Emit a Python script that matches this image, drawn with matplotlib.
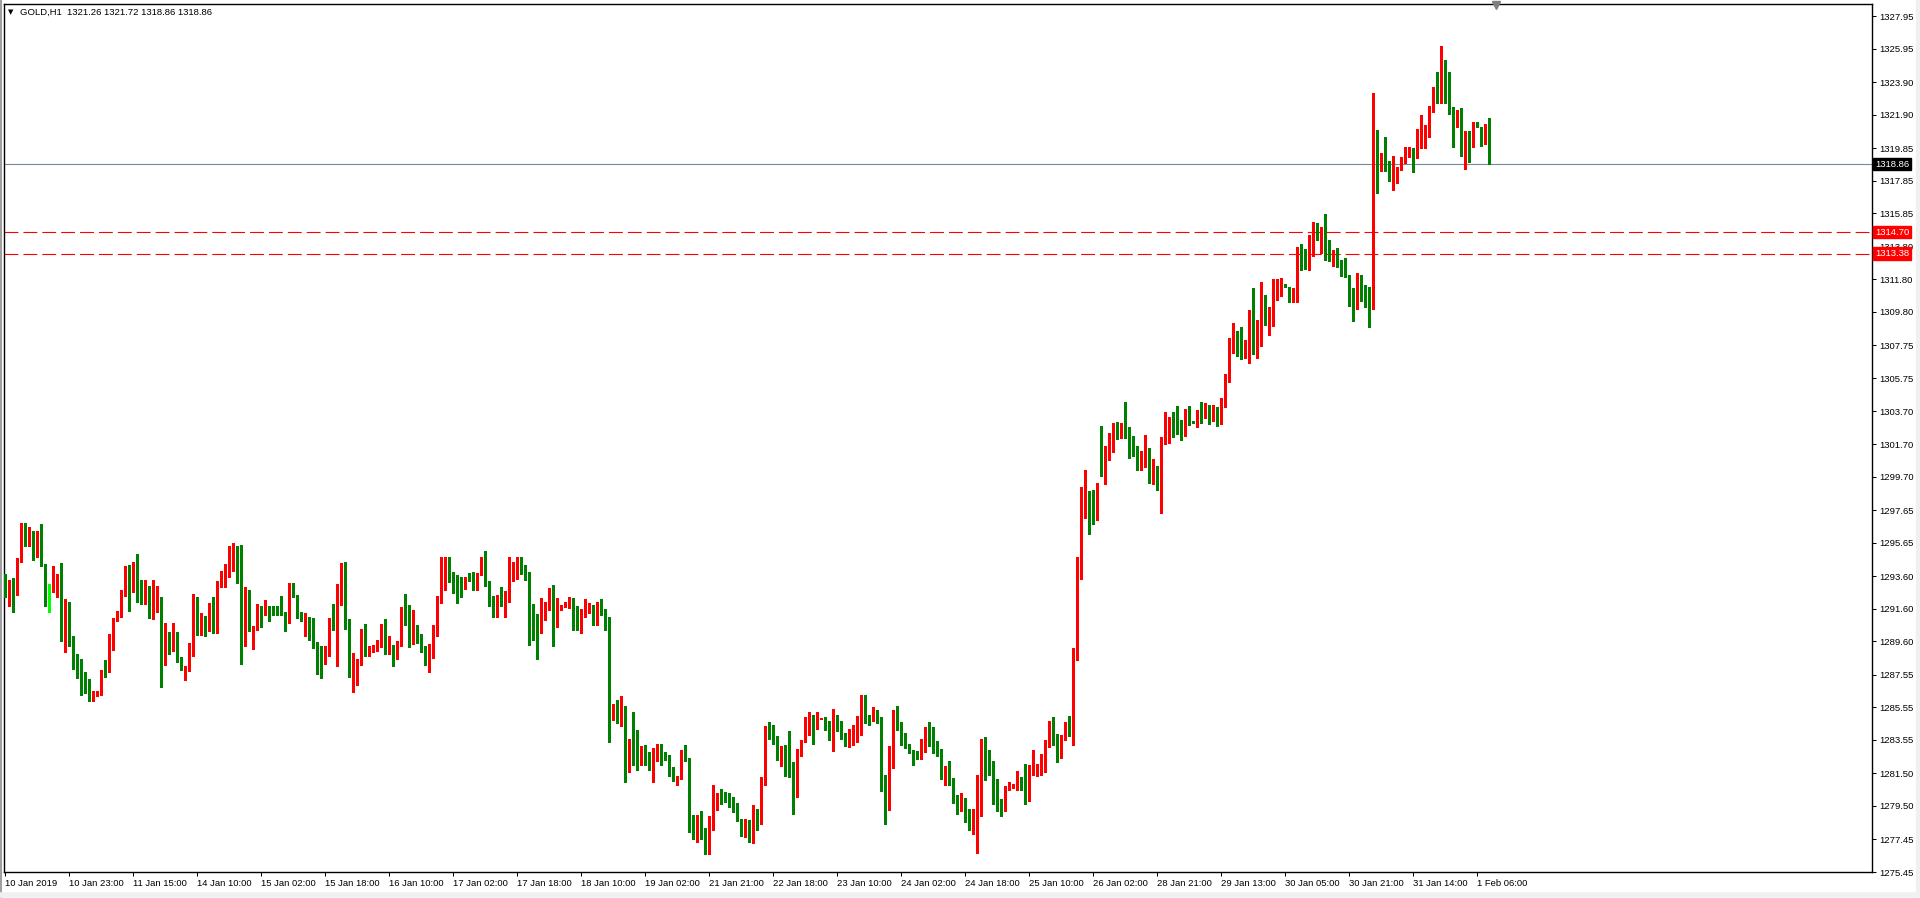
import matplotlib
matplotlib.use("Agg")
import matplotlib.pyplot as plt
from matplotlib.lines import Line2D

# ------------------------------------------------------
# GOLD H1 bars, 10 Jan 2019 -> 1 Feb 2019
# ------------------------------------------------------
opens = [
    1293.27, 1292.72, 1292.93, 1292.41, 1294.50, 1296.75, 1295.52, 1296.07, 1294.97, 1295.28,
    1294.36, 1292.80, 1292.76, 1292.82, 1293.74, 1289.64, 1291.72, 1289.94, 1288.84, 1287.75,
    1287.61, 1287.31, 1286.08, 1286.22, 1286.28, 1287.92, 1287.69, 1289.66, 1290.82, 1291.09,
    1292.60, 1293.82, 1292.86, 1293.48, 1292.72, 1292.05, 1292.97, 1291.33, 1291.84, 1292.21,
    1288.37, 1290.06, 1289.14, 1290.06, 1288.41, 1287.31, 1287.86, 1288.84, 1292.15, 1290.06,
    1290.78, 1290.27, 1291.64, 1291.17, 1292.93, 1293.52, 1293.54, 1294.91, 1295.38, 1295.09,
    1289.59, 1291.94, 1290.27, 1290.41, 1291.54, 1291.43, 1291.64, 1291.39, 1291.78, 1291.39,
    1291.33, 1291.06, 1292.86, 1292.35, 1291.09, 1291.00, 1291.09, 1290.47, 1289.49, 1288.71,
    1288.53, 1288.84, 1290.98, 1290.61, 1292.82, 1294.25, 1290.98, 1287.65, 1287.71, 1288.47,
    1290.20, 1288.92, 1289.16, 1289.22, 1289.33, 1290.51, 1288.98, 1289.33, 1288.53, 1289.39,
    1291.47, 1290.80, 1289.49, 1290.61, 1289.63, 1289.18, 1288.47, 1288.61, 1289.94, 1292.29,
    1292.72, 1294.56, 1293.57, 1293.21, 1293.00, 1292.90, 1293.82, 1293.57, 1292.76, 1293.74,
    1294.60, 1293.21, 1292.29, 1291.22, 1292.45, 1292.39, 1292.66, 1293.78, 1294.04, 1294.08,
    1293.88, 1293.68, 1291.33, 1290.55, 1290.14, 1291.33, 1291.74, 1292.08, 1290.55, 1291.53,
    1291.76, 1291.78, 1292.14, 1290.92, 1290.61, 1291.12, 1291.49, 1291.78, 1290.92, 1291.84,
    1291.45, 1290.90, 1284.89, 1285.71, 1284.38, 1285.65, 1282.99, 1283.19, 1283.15, 1282.23,
    1282.40, 1282.23, 1280.95, 1282.34, 1283.25, 1282.70, 1282.58, 1281.60, 1281.11, 1281.21,
    1282.78, 1282.27, 1278.90, 1278.21, 1278.76, 1278.15, 1277.47, 1278.76, 1279.58, 1280.23,
    1280.23, 1279.68, 1279.51, 1279.21, 1278.70, 1277.74, 1278.66, 1277.33, 1279.02, 1278.41,
    1281.01, 1284.22, 1283.97, 1283.66, 1282.38, 1283.01, 1282.64, 1281.41, 1280.03, 1282.91,
    1283.42, 1284.24, 1285.09, 1284.22, 1284.83, 1284.85, 1284.42, 1284.28, 1284.83, 1284.28,
    1283.77, 1283.15, 1283.83, 1283.87, 1284.24, 1286.16, 1284.95, 1284.73, 1285.26, 1284.93,
    1280.64, 1279.58, 1281.87, 1284.85, 1284.58, 1283.40, 1283.32, 1282.89, 1282.85, 1282.44,
    1283.52, 1284.28, 1284.24, 1283.19, 1282.70, 1281.38, 1281.52, 1281.11, 1279.90, 1279.40,
    1279.80, 1278.90, 1278.40, 1279.00, 1279.20, 1283.26, 1282.03, 1281.93, 1279.90, 1279.50,
    1279.30, 1280.68, 1280.66, 1280.80, 1281.25, 1280.66, 1279.90, 1281.52, 1281.52, 1281.72,
    1281.97, 1283.40, 1284.42, 1283.56, 1283.09, 1283.56, 1284.34, 1283.93, 1288.43, 1293.43,
    1297.26, 1298.83, 1297.46, 1297.01, 1302.81, 1299.87, 1301.04, 1301.38, 1302.87, 1302.47,
    1302.98, 1302.26, 1301.65, 1301.59, 1300.18, 1300.36, 1301.04, 1299.40, 1299.91, 1299.34,
    1301.85, 1302.32, 1303.18, 1303.12, 1302.51, 1302.32, 1303.79, 1303.08, 1303.02, 1303.79,
    1303.50, 1304.00, 1303.30, 1303.80, 1303.00, 1304.30, 1305.70, 1307.60, 1308.25, 1308.10,
    1307.20, 1307.00, 1308.58, 1307.40, 1307.90, 1310.78, 1309.07, 1309.68, 1310.84, 1311.15,
    1311.46, 1311.31, 1310.44, 1311.11, 1313.60, 1313.56, 1312.99, 1313.40, 1314.99, 1314.22,
    1314.63, 1313.80, 1313.00, 1313.40, 1312.70, 1312.50, 1311.93, 1311.25, 1310.50, 1312.01,
    1311.31, 1310.95, 1310.13, 1319.78, 1318.75, 1319.84, 1319.08, 1317.90, 1318.04, 1318.51,
    1319.08, 1319.43, 1319.80, 1319.22, 1320.33, 1320.45, 1320.55, 1322.29, 1323.25, 1322.94,
    1325.21, 1323.05, 1322.13, 1321.21, 1321.88, 1319.37, 1320.90, 1319.94, 1321.25, 1321.17,
    1320.86, 1321.26,
]

highs = [
    1293.74, 1293.33, 1293.48, 1294.70, 1296.85, 1296.85, 1296.60, 1296.34, 1296.34, 1296.80,
    1294.36, 1293.13, 1294.19, 1293.74, 1294.40, 1292.19, 1291.99, 1289.94, 1288.84, 1288.51,
    1287.69, 1287.31, 1286.53, 1286.53, 1287.86, 1288.47, 1290.04, 1291.02, 1291.47, 1292.76,
    1294.19, 1294.29, 1294.44, 1294.97, 1293.38, 1293.38, 1293.01, 1293.38, 1293.01, 1292.31,
    1290.72, 1290.15, 1290.72, 1290.15, 1288.63, 1288.06, 1289.49, 1292.50, 1292.31, 1291.33,
    1291.17, 1291.94, 1292.31, 1293.27, 1293.93, 1294.34, 1295.46, 1295.66, 1295.42, 1295.52,
    1292.93, 1292.72, 1290.51, 1291.90, 1291.74, 1292.15, 1291.74, 1291.78, 1291.78, 1292.39,
    1291.37, 1293.17, 1293.17, 1292.45, 1291.41, 1291.33, 1291.09, 1291.02, 1289.57, 1289.33,
    1289.33, 1291.06, 1291.90, 1293.13, 1294.43, 1294.49, 1290.98, 1288.87, 1288.53, 1290.35,
    1290.67, 1289.29, 1289.39, 1289.69, 1290.67, 1290.98, 1289.94, 1289.39, 1289.63, 1291.70,
    1292.51, 1291.84, 1291.53, 1290.61, 1290.06, 1289.33, 1289.45, 1290.61, 1292.35, 1294.76,
    1294.76, 1294.76, 1293.88, 1293.68, 1293.57, 1293.57, 1293.82, 1293.88, 1293.82, 1294.80,
    1295.15, 1293.27, 1292.39, 1292.45, 1292.92, 1292.70, 1294.76, 1294.45, 1294.76, 1294.76,
    1294.29, 1293.88, 1291.90, 1291.29, 1292.25, 1292.04, 1292.86, 1293.06, 1292.25, 1291.84,
    1292.04, 1292.31, 1292.25, 1291.78, 1291.57, 1292.18, 1291.94, 1291.84, 1292.04, 1292.20,
    1291.60, 1291.10, 1285.77, 1285.97, 1286.26, 1285.65, 1283.60, 1285.24, 1284.17, 1283.15,
    1283.25, 1282.78, 1283.05, 1283.32, 1283.32, 1282.78, 1282.64, 1281.89, 1281.31, 1282.95,
    1283.25, 1282.44, 1278.96, 1278.96, 1279.21, 1278.15, 1278.86, 1280.80, 1280.29, 1280.54,
    1280.33, 1280.29, 1280.05, 1279.68, 1278.70, 1278.70, 1278.66, 1279.58, 1279.31, 1281.27,
    1284.38, 1284.62, 1284.48, 1283.77, 1283.15, 1283.21, 1284.11, 1282.17, 1282.99, 1283.56,
    1284.93, 1285.24, 1285.09, 1285.26, 1284.89, 1284.95, 1284.73, 1285.46, 1285.09, 1284.69,
    1283.97, 1284.22, 1284.48, 1285.03, 1286.32, 1286.32, 1285.09, 1285.56, 1285.40, 1284.93,
    1281.41, 1283.15, 1285.40, 1285.65, 1284.62, 1283.97, 1283.32, 1282.95, 1282.89, 1283.60,
    1284.32, 1284.62, 1284.32, 1283.46, 1283.01, 1281.93, 1282.23, 1281.20, 1280.20, 1280.30,
    1280.00, 1279.30, 1279.30, 1281.42, 1283.60, 1283.70, 1282.95, 1282.27, 1281.15, 1279.90,
    1280.70, 1280.95, 1280.85, 1281.62, 1281.25, 1282.09, 1282.03, 1282.91, 1282.09, 1282.70,
    1283.56, 1284.73, 1284.93, 1283.93, 1283.87, 1284.62, 1284.99, 1289.22, 1294.80, 1299.09,
    1300.11, 1298.83, 1298.89, 1299.34, 1302.81, 1301.59, 1302.40, 1302.98, 1303.08, 1302.98,
    1304.28, 1302.77, 1302.22, 1301.59, 1301.28, 1302.26, 1301.48, 1300.77, 1300.36, 1302.16,
    1303.69, 1303.38, 1303.65, 1304.04, 1303.18, 1303.85, 1304.04, 1303.10, 1303.79, 1304.30,
    1304.20, 1304.10, 1304.10, 1304.00, 1304.50, 1306.00, 1308.20, 1309.11, 1308.66, 1308.90,
    1308.10, 1309.93, 1311.29, 1309.30, 1311.61, 1310.84, 1310.13, 1311.80, 1311.80, 1311.87,
    1311.50, 1311.36, 1311.25, 1313.77, 1313.97, 1313.64, 1314.52, 1315.34, 1315.28, 1315.00,
    1315.81, 1314.20, 1313.60, 1313.70, 1313.00, 1313.10, 1312.07, 1311.25, 1312.17, 1312.07,
    1311.46, 1311.36, 1323.25, 1320.96, 1319.53, 1320.51, 1319.08, 1319.37, 1318.71, 1319.33,
    1319.90, 1319.90, 1319.84, 1321.00, 1321.88, 1321.27, 1322.43, 1323.62, 1324.50, 1326.11,
    1325.25, 1324.50, 1322.39, 1322.19, 1322.29, 1320.90, 1320.92, 1321.45, 1321.45, 1321.17,
    1321.33, 1321.72,
]

lows = [
    1292.29, 1291.78, 1291.37, 1292.41, 1294.45, 1295.42, 1295.42, 1294.60, 1294.76, 1294.19,
    1291.78, 1291.37, 1292.60, 1292.29, 1289.59, 1288.92, 1289.29, 1287.92, 1287.35, 1286.28,
    1286.43, 1285.92, 1285.96, 1286.22, 1286.28, 1287.39, 1287.69, 1289.08, 1290.82, 1291.09,
    1292.35, 1291.47, 1292.60, 1291.99, 1291.90, 1291.90, 1291.02, 1290.96, 1291.37, 1286.77,
    1288.16, 1288.84, 1288.98, 1288.33, 1287.82, 1287.24, 1287.75, 1288.67, 1290.00, 1290.00,
    1289.94, 1290.21, 1290.11, 1290.11, 1292.93, 1292.91, 1293.54, 1293.93, 1293.17, 1288.20,
    1289.29, 1290.21, 1289.12, 1290.27, 1290.45, 1291.23, 1290.82, 1291.19, 1291.23, 1291.23,
    1290.21, 1290.72, 1292.31, 1291.02, 1290.82, 1289.94, 1289.65, 1289.16, 1287.61, 1287.32,
    1288.18, 1288.71, 1290.27, 1288.06, 1291.84, 1290.37, 1287.44, 1286.52, 1286.89, 1288.16,
    1288.71, 1288.67, 1288.92, 1288.98, 1289.24, 1288.83, 1288.83, 1288.10, 1288.53, 1289.33,
    1290.61, 1289.24, 1289.45, 1289.49, 1288.92, 1288.16, 1287.69, 1288.57, 1289.94, 1291.98,
    1292.72, 1293.21, 1292.59, 1291.98, 1292.29, 1292.80, 1293.27, 1292.72, 1292.72, 1293.68,
    1293.00, 1291.74, 1291.12, 1291.12, 1291.74, 1291.12, 1292.04, 1293.27, 1293.43, 1293.72,
    1293.37, 1289.39, 1289.65, 1288.53, 1290.14, 1290.88, 1291.53, 1289.33, 1290.47, 1291.49,
    1291.70, 1291.63, 1290.31, 1290.27, 1290.14, 1291.08, 1291.33, 1290.61, 1290.61, 1291.20,
    1290.30, 1283.40, 1284.75, 1284.58, 1284.38, 1280.95, 1281.56, 1282.03, 1281.68, 1282.03,
    1282.03, 1281.68, 1280.95, 1282.27, 1282.03, 1282.34, 1281.31, 1281.01, 1280.80, 1281.17,
    1282.23, 1277.88, 1277.47, 1277.27, 1277.47, 1276.55, 1276.55, 1278.00, 1279.23, 1279.64,
    1279.72, 1279.41, 1279.11, 1278.55, 1277.63, 1277.57, 1277.27, 1277.23, 1278.00, 1278.41,
    1280.80, 1283.60, 1283.30, 1282.29, 1281.93, 1281.35, 1281.25, 1279.02, 1280.03, 1282.54,
    1283.42, 1283.87, 1283.32, 1284.22, 1284.81, 1284.13, 1283.56, 1282.85, 1284.11, 1283.62,
    1283.15, 1283.09, 1283.21, 1283.40, 1283.87, 1284.58, 1284.44, 1284.73, 1284.58, 1280.39,
    1278.41, 1279.23, 1281.82, 1284.17, 1283.26, 1283.05, 1282.75, 1282.03, 1282.40, 1282.38,
    1282.79, 1283.19, 1282.75, 1282.54, 1281.15, 1280.80, 1280.80, 1279.70, 1279.00, 1279.20,
    1278.50, 1278.00, 1277.80, 1276.63, 1278.90, 1281.07, 1281.42, 1279.60, 1279.20, 1278.90,
    1279.20, 1280.49, 1280.62, 1280.49, 1280.45, 1279.60, 1279.80, 1281.40, 1281.36, 1281.40,
    1281.56, 1283.09, 1283.26, 1282.17, 1282.44, 1283.56, 1283.81, 1283.26, 1288.43, 1293.43,
    1297.15, 1296.19, 1296.80, 1297.01, 1299.75, 1299.26, 1300.73, 1301.24, 1302.01, 1302.10,
    1302.10, 1300.87, 1300.97, 1300.11, 1300.11, 1300.32, 1299.34, 1299.26, 1298.85, 1297.50,
    1301.71, 1301.75, 1302.16, 1302.30, 1301.95, 1302.20, 1302.87, 1303.00, 1302.77, 1303.00,
    1303.30, 1302.90, 1303.10, 1302.80, 1302.90, 1304.00, 1305.50, 1307.30, 1307.10, 1306.90,
    1307.00, 1306.70, 1307.20, 1307.00, 1307.70, 1309.01, 1308.39, 1308.94, 1310.54, 1310.78,
    1311.36, 1310.44, 1310.40, 1310.44, 1312.38, 1312.44, 1312.38, 1313.25, 1314.22, 1313.40,
    1313.00, 1312.90, 1312.60, 1312.55, 1312.00, 1311.93, 1310.17, 1309.27, 1309.97, 1310.48,
    1310.13, 1308.86, 1309.97, 1317.12, 1318.47, 1318.47, 1317.86, 1317.28, 1317.69, 1318.51,
    1318.96, 1319.29, 1318.41, 1319.22, 1319.84, 1319.84, 1320.51, 1322.09, 1322.60, 1322.60,
    1322.64, 1321.94, 1319.94, 1321.12, 1319.37, 1318.57, 1319.02, 1319.94, 1321.12, 1319.98,
    1320.10, 1318.86,
]

closes = [
    1292.72, 1293.01, 1292.35, 1294.54, 1296.75, 1295.52, 1296.07, 1294.97, 1295.28, 1294.29,
    1292.76, 1292.80, 1292.93, 1293.74, 1289.64, 1291.72, 1289.90, 1288.78, 1287.71, 1287.55,
    1287.24, 1286.02, 1286.26, 1286.32, 1287.80, 1287.69, 1289.70, 1290.86, 1291.17, 1292.66,
    1293.82, 1292.82, 1293.44, 1292.66, 1292.05, 1293.01, 1291.33, 1291.84, 1292.21, 1288.37,
    1290.11, 1289.14, 1290.06, 1288.37, 1287.86, 1287.90, 1288.88, 1292.15, 1290.06, 1290.72,
    1290.27, 1291.60, 1291.17, 1293.01, 1293.54, 1293.62, 1294.97, 1295.38, 1295.05, 1289.59,
    1291.94, 1290.27, 1290.41, 1291.54, 1291.37, 1291.70, 1291.39, 1291.23, 1291.23, 1291.29,
    1291.02, 1292.80, 1292.35, 1291.06, 1291.00, 1291.09, 1290.51, 1289.45, 1288.67, 1288.47,
    1288.87, 1290.98, 1290.61, 1292.82, 1294.25, 1290.92, 1287.61, 1287.79, 1288.53, 1290.20,
    1288.92, 1289.16, 1289.29, 1289.45, 1290.51, 1288.98, 1289.33, 1288.53, 1289.45, 1291.47,
    1290.80, 1289.53, 1290.61, 1289.59, 1289.18, 1288.47, 1288.67, 1289.99, 1292.35, 1292.82,
    1294.56, 1293.57, 1293.21, 1292.96, 1292.90, 1293.37, 1293.27, 1292.72, 1293.82, 1294.60,
    1293.13, 1292.29, 1291.22, 1292.45, 1292.39, 1292.70, 1293.82, 1294.04, 1294.10, 1293.82,
    1293.61, 1291.29, 1290.41, 1290.14, 1291.33, 1291.84, 1292.14, 1290.55, 1291.59, 1291.78,
    1291.80, 1292.14, 1290.88, 1290.61, 1291.16, 1291.59, 1291.78, 1290.92, 1291.84, 1291.45,
    1290.90, 1284.89, 1285.71, 1284.58, 1285.65, 1282.99, 1283.19, 1283.09, 1282.23, 1282.40,
    1282.17, 1281.76, 1282.40, 1283.25, 1282.70, 1282.48, 1281.56, 1281.11, 1281.31, 1282.78,
    1282.23, 1278.86, 1278.21, 1278.76, 1278.08, 1277.47, 1278.76, 1279.64, 1280.19, 1280.19,
    1279.94, 1279.47, 1279.17, 1278.62, 1277.74, 1278.66, 1277.33, 1278.96, 1278.41, 1281.05,
    1284.32, 1283.93, 1283.60, 1282.38, 1283.01, 1282.54, 1281.35, 1280.03, 1282.95, 1283.46,
    1284.32, 1285.09, 1284.22, 1284.83, 1284.87, 1284.34, 1284.28, 1284.89, 1284.28, 1283.77,
    1283.15, 1283.87, 1283.93, 1284.38, 1286.16, 1284.85, 1284.73, 1285.26, 1284.83, 1280.56,
    1279.58, 1281.89, 1284.93, 1284.42, 1283.36, 1283.26, 1282.85, 1282.44, 1282.44, 1283.56,
    1284.24, 1284.22, 1283.15, 1282.64, 1281.46, 1281.52, 1281.11, 1279.90, 1279.40, 1279.80,
    1278.90, 1278.40, 1279.00, 1279.30, 1283.26, 1282.03, 1281.87, 1279.90, 1279.50, 1279.30,
    1280.60, 1280.85, 1280.80, 1281.17, 1280.54, 1279.90, 1281.56, 1281.62, 1281.79, 1282.03,
    1283.46, 1284.42, 1283.52, 1283.09, 1283.60, 1284.34, 1283.93, 1288.47, 1293.47, 1297.36,
    1298.83, 1297.42, 1297.01, 1298.32, 1299.87, 1301.04, 1301.44, 1302.87, 1302.53, 1302.98,
    1302.22, 1301.59, 1301.55, 1300.22, 1300.42, 1301.04, 1299.40, 1299.87, 1299.34, 1301.89,
    1302.40, 1303.18, 1303.08, 1302.47, 1302.32, 1303.79, 1303.02, 1303.02, 1303.79, 1303.50,
    1304.00, 1303.30, 1303.80, 1303.00, 1304.30, 1305.70, 1307.60, 1308.33, 1307.50, 1307.20,
    1307.80, 1308.58, 1307.40, 1308.00, 1310.74, 1309.07, 1309.68, 1310.91, 1311.19, 1311.46,
    1311.40, 1310.54, 1311.11, 1313.66, 1312.95, 1312.99, 1313.66, 1314.99, 1314.22, 1314.63,
    1313.80, 1313.00, 1313.40, 1312.70, 1312.50, 1311.93, 1311.11, 1310.48, 1312.01, 1311.31,
    1310.91, 1310.13, 1319.78, 1318.75, 1319.53, 1319.08, 1317.86, 1318.06, 1318.55, 1319.12,
    1319.49, 1319.82, 1319.22, 1320.35, 1320.49, 1320.59, 1322.39, 1323.25, 1322.94, 1325.25,
    1323.05, 1322.02, 1321.21, 1321.88, 1319.37, 1320.90, 1319.88, 1321.45, 1321.17, 1320.92,
    1321.27, 1318.86,
]

# time-axis labels, one every 16 bars
time_labels = [
    "10 Jan 2019", "10 Jan 23:00", "11 Jan 15:00", "14 Jan 10:00", "15 Jan 02:00",
    "15 Jan 18:00", "16 Jan 10:00", "17 Jan 02:00", "17 Jan 18:00", "18 Jan 10:00",
    "19 Jan 02:00", "21 Jan 21:00", "22 Jan 18:00", "23 Jan 10:00", "24 Jan 02:00",
    "24 Jan 18:00", "25 Jan 10:00", "26 Jan 02:00", "28 Jan 21:00", "29 Jan 13:00",
    "30 Jan 05:00", "30 Jan 21:00", "31 Jan 14:00", "1 Feb 06:00",
]
label_step = 16

# price scale labels
price_ticks = [
    1327.95, 1325.95, 1323.90, 1321.90, 1319.85, 1317.85, 1315.85, 1313.80, 1311.80,
    1309.80, 1307.75, 1305.75, 1303.70, 1301.70, 1299.70, 1297.65, 1295.65, 1293.60,
    1291.60, 1289.60, 1287.55, 1285.55, 1283.55, 1281.50, 1279.50, 1277.45, 1275.45,
]

symbol = "GOLD,H1"
bid_price = 1318.86
levels = [1314.70, 1313.38]

UP = "#FF0000"
DOWN = "#008000"
DOJI = "#00FF00"

W, H = 1920, 898
fig = plt.figure(figsize=(W / 100, H / 100), dpi=100, facecolor="white")
ax = fig.add_axes([4 / W, (H - 872) / H, (1872 - 4) / W, (872 - 4) / H])
ax.set_facecolor("white")

n = len(closes)
xs = list(range(n))
colors = []
for o, c in zip(opens, closes):
    if c > o:
        colors.append(UP)
    elif c < o:
        colors.append(DOWN)
    else:
        colors.append(DOJI)

# wicks (1 px)
ax.vlines(xs, lows, highs, colors=colors, linewidth=0.75,
          antialiased=False, zorder=3)

# bodies (3 px wide, at least one pixel tall)
min_h = 0.07
body_lo = []
body_hi = []
for o, c in zip(opens, closes):
    lo, hi = min(o, c), max(o, c)
    if hi - lo < min_h:
        mid = (lo + hi) / 2
        lo, hi = mid - min_h / 2, mid + min_h / 2
    body_lo.append(lo)
    body_hi.append(hi)
bodies = ax.vlines(xs, body_lo, body_hi, colors=colors, linewidth=2.16,
                   antialiased=False, zorder=4)
bodies.set_capstyle("butt")

# horizontal lines: bid and two levels
ax.axhline(bid_price, color="#778899", linewidth=0.8, zorder=2)
for lv in levels:
    ax.axhline(lv, color="#FF0000", linewidth=0.8, dashes=(12.5, 4.5), zorder=2)

ax.set_xlim(-0.25, 466.75)
ax.set_ylim(1275.45, 1328.69)

# time axis
ax.set_xticks([i * label_step for i in range(len(time_labels))])
ax.set_xticklabels(time_labels, ha="left")
ax.tick_params(axis="x", direction="out", length=3, width=0.75, pad=2,
               labelsize=6.8, colors="black")

# price axis on the right
ax.yaxis.tick_right()
ax.set_yticks(price_ticks)
ax.set_yticklabels([f"{p:.2f}" for p in price_ticks])
ax.tick_params(axis="y", direction="out", length=3, width=0.75, pad=2.5,
               labelsize=6.8, colors="black")

for lab in ax.get_xticklabels() + ax.get_yticklabels():
    lab.set_fontfamily("Liberation Sans")

for sp in ax.spines.values():
    sp.set_color("black")
    sp.set_linewidth(1.0)

# price tags on the scale
tag_x = 1.0 + 3 / (1872 - 4)
ytrans = ax.get_yaxis_transform()
ax.text(tag_x, bid_price, f"{bid_price:.2f}", transform=ytrans, ha="left", va="center",
        fontsize=6.8, family="Liberation Sans", color="white", zorder=10, clip_on=False,
        bbox=dict(boxstyle="square,pad=0.18", facecolor="black", edgecolor="black"))
for lv in levels:
    ax.text(tag_x, lv, f"{lv:.2f}", transform=ytrans, ha="left", va="center",
            fontsize=6.8, family="Liberation Sans", color="white", zorder=10, clip_on=False,
            bbox=dict(boxstyle="square,pad=0.18", facecolor="#FF0000", edgecolor="#FF0000"))

# header line with the last bar's OHLC
fig.text(8 / W, 1 - 12 / H, "\u25BC", fontsize=5, family="DejaVu Sans", va="center")
fig.text(20 / W, 1 - 12 / H,
         f"{symbol}  {opens[-1]:.2f} {highs[-1]:.2f} {lows[-1]:.2f} {closes[-1]:.2f}",
         fontsize=6.8, family="Liberation Sans", va="center")

# chart-shift marker at the top
fig.add_artist(Line2D([1496 / W], [1 - 5 / H], marker="v", markersize=6,
                      color="#808080", linestyle="none"))

# window frame
fig.add_artist(Line2D([0.5 / W, 0.5 / W], [0, 1], color="#A0A0A0", linewidth=1.5))
fig.add_artist(Line2D([0, 1], [3 / H, 3 / H], color="#F0F0F0", linewidth=4))
fig.add_artist(Line2D([1 - 2 / W, 1 - 2 / W], [0, 1], color="#F0F0F0", linewidth=3))

fig.savefig("out.png", dpi=100, facecolor="white")
